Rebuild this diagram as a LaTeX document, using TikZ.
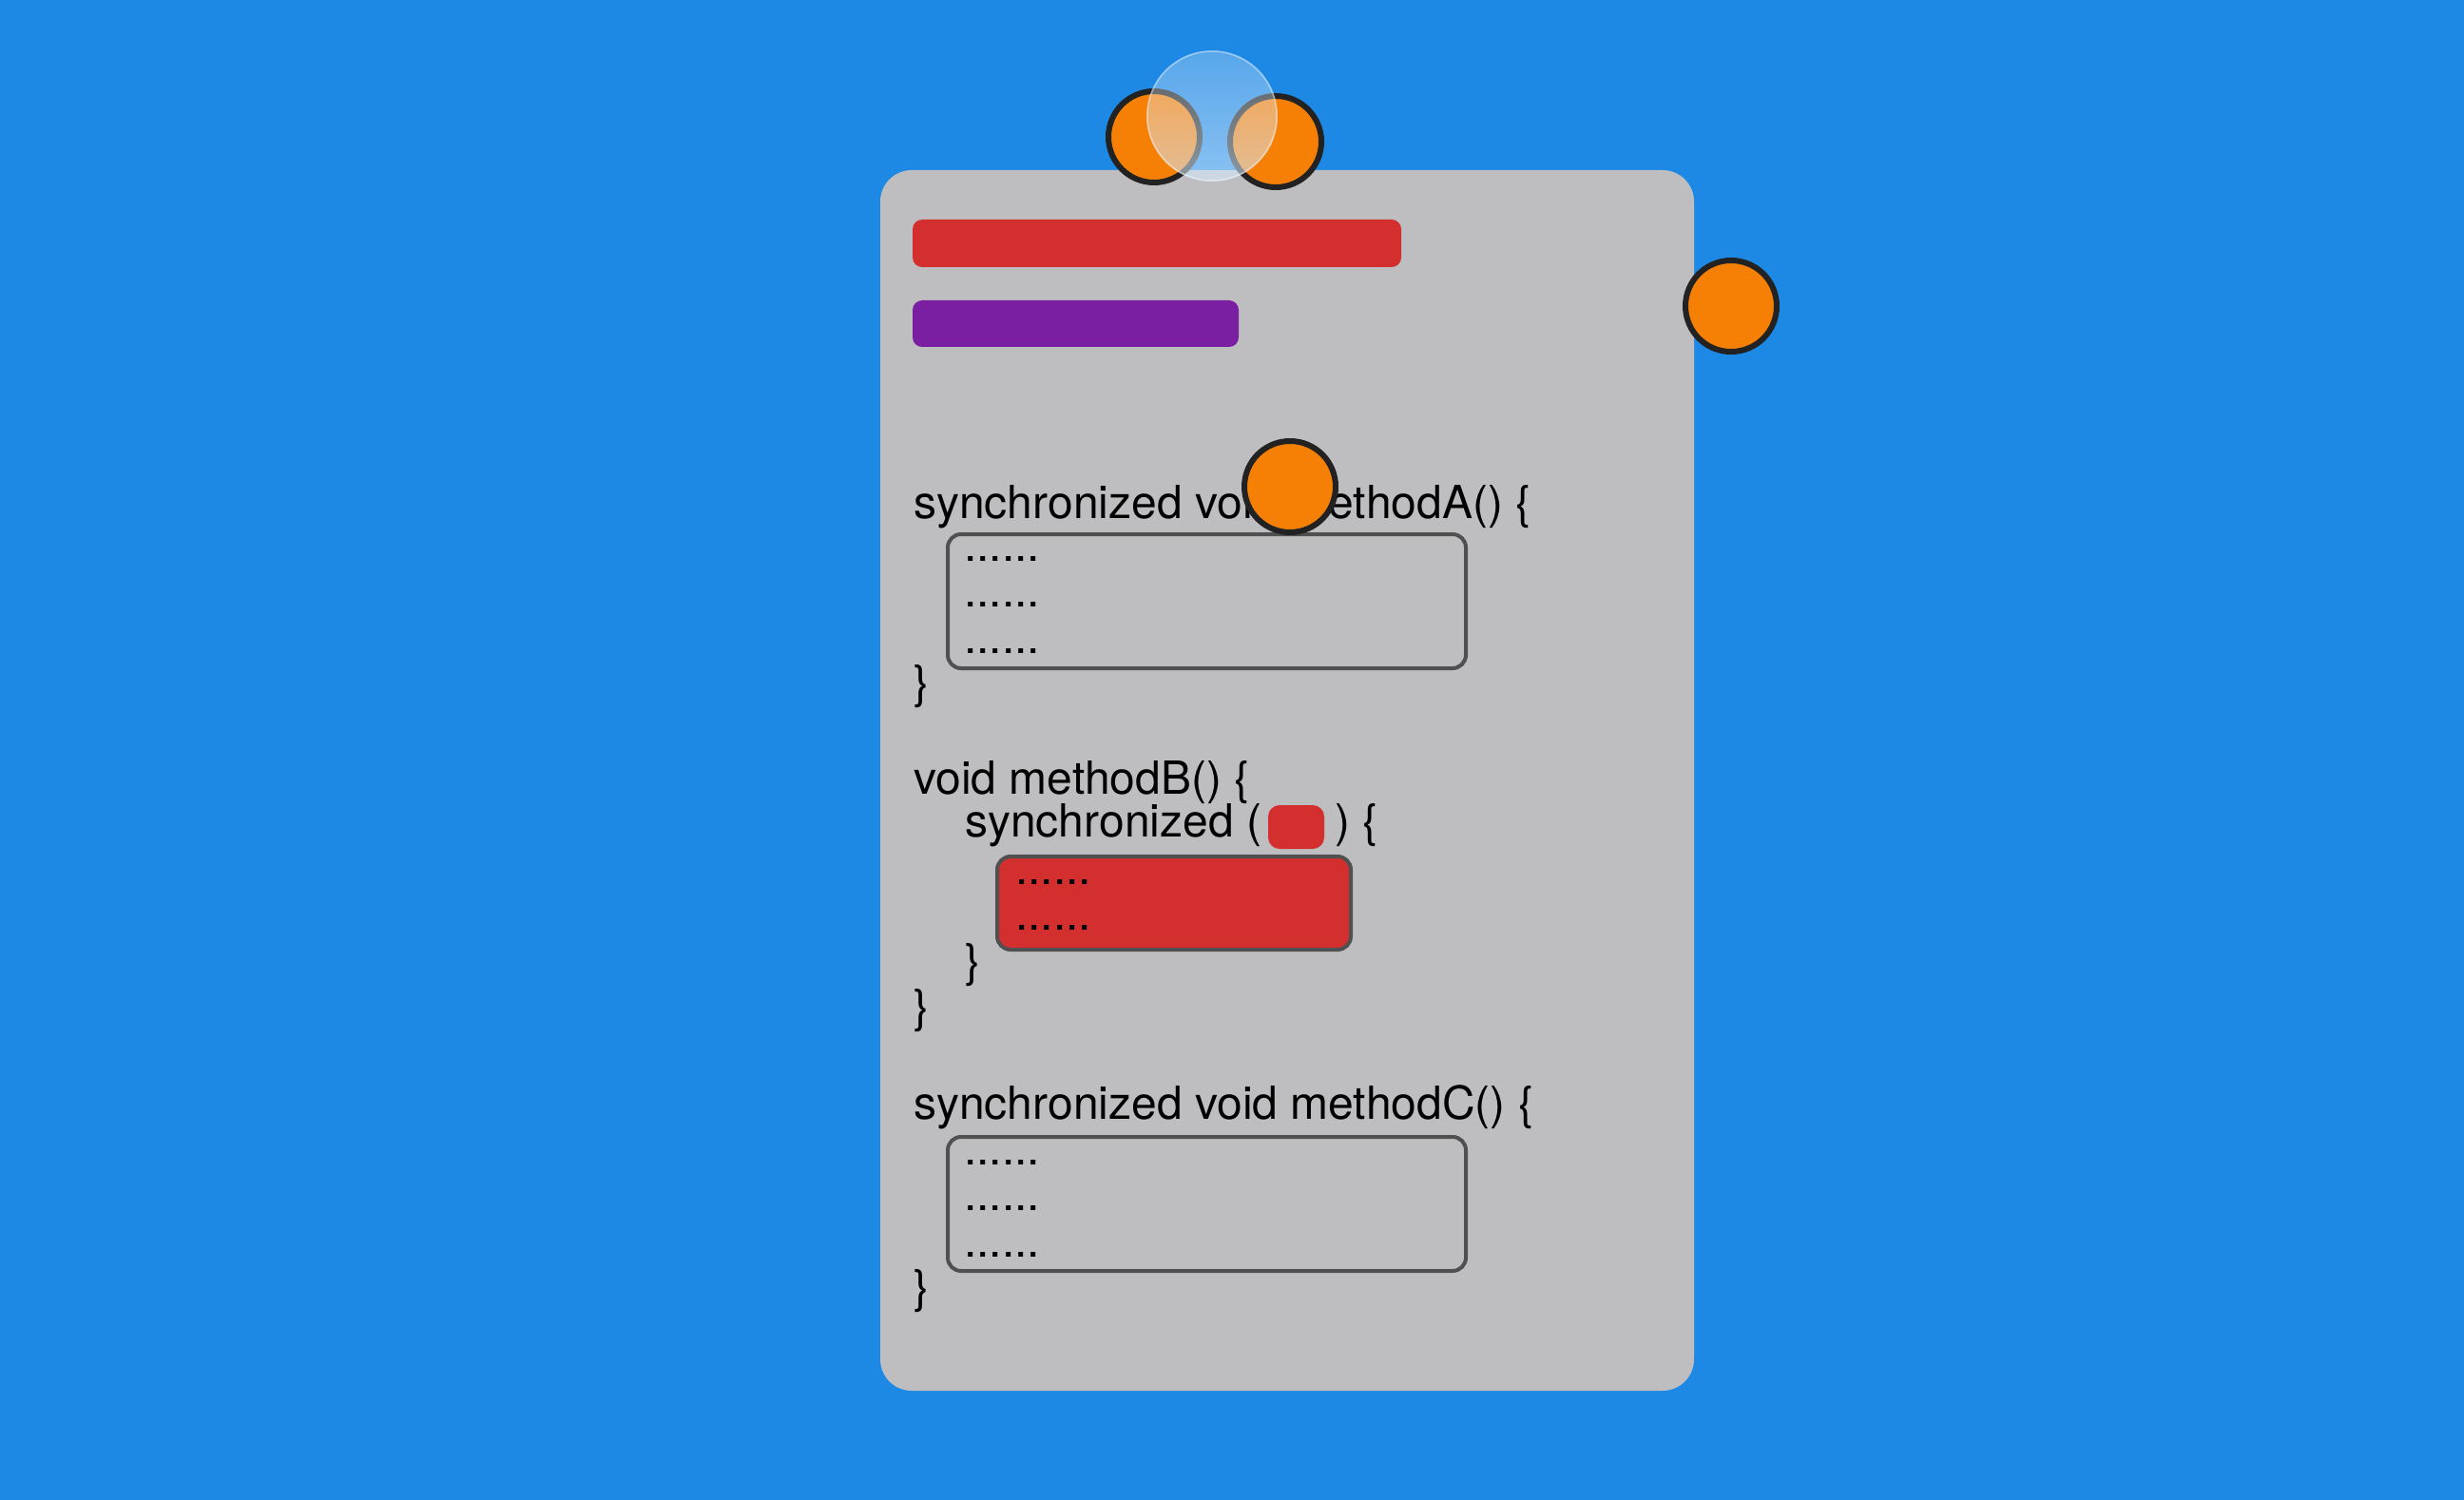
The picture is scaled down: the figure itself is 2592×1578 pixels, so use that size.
\documentclass[tikz,border=0pt]{standalone}
\usepackage{fontspec}
\setmainfont{TeX Gyre Heros}
\usetikzlibrary{fadings}
\definecolor{bgblue}{RGB}{30,137,229}
\definecolor{panelgray}{RGB}{190,190,192}
\definecolor{barred}{RGB}{211,47,47}
\definecolor{barpurple}{RGB}{123,31,162}
\definecolor{orangefill}{RGB}{246,128,6}
\definecolor{ringdark}{RGB}{34,34,34}
\definecolor{boxline}{RGB}{80,80,80}
\definecolor{glasstop}{RGB}{200,228,252}
\begin{document}
\begin{tikzpicture}[x=1pt,y=-1pt,
  panelbox/.style={rectangle, rounded corners=33pt, fill=panelgray, inner sep=0pt, minimum width=856pt, minimum height=1284pt},
  bar/.style={rectangle, rounded corners=10pt, inner sep=0pt, minimum height=50pt},
  codebox/.style={rectangle, rounded corners=14pt, draw=boxline, line width=4pt, inner sep=0pt},
  codetext/.style={anchor=base west, inner sep=0pt, text=black, font=\fontsize{48}{56}\selectfont},
  dotstext/.style={anchor=base west, inner sep=0pt, text=black, font=\fontsize{48}{56}\selectfont},
  orangec/.style={circle, fill=orangefill, draw=ringdark, line width=6pt, minimum size=96pt, inner sep=0pt},
  glassc/.style={circle, minimum size=138pt, inner sep=0pt}
]
\useasboundingbox (0,0) rectangle (2592,1578);
\fill[bgblue] (0,0) rectangle (2592,1578);

% panel
\node[panelbox] (panel) at (1354,821) {};

% bars
\node[bar, fill=barred, minimum width=514pt] (redbar) at (1217,256) {};
\node[bar, fill=barpurple, minimum width=343pt, minimum height=49pt] (purplebar) at (1131.5,340.5) {};

% method A
\node[codetext] (sigA) at (961,545) {synchronized void methodA() \{};
\node[codebox, minimum width=545pt, minimum height=141pt] (boxA) at (1269.5,632.5) {};
\node[dotstext] (dA1) at (1014,590) {......};
\node[dotstext] (dA2) at (1014,638) {......};
\node[dotstext] (dA3) at (1014,687) {......};
\node[codetext] (endA) at (961,734) {\}};

% method B
\node[codetext] (sigB) at (961,835) {void methodB() \{};
\node[codetext] (syncB) at (1015,880) {synchronized (};
\node[rectangle, rounded corners=12pt, fill=barred, minimum width=59pt, minimum height=46pt, inner sep=0pt] (lockB) at (1363.5,870) {};
\node[codetext] (syncBend) at (1404,880) {) \{};
\node[codebox, fill=barred, minimum width=372pt, minimum height=98pt] (boxB) at (1235,950) {};
\node[dotstext] (dB1) at (1068,930) {......};
\node[dotstext] (dB2) at (1068,978) {......};
\node[codetext] (endB1) at (1015,1027) {\}};
\node[codetext] (endB2) at (961,1075) {\}};

% method C
\node[codetext] (sigC) at (961,1177) {synchronized void methodC() \{};
\node[codebox, minimum width=545pt, minimum height=141pt] (boxC) at (1269.5,1266.5) {};
\node[dotstext] (dC1) at (1014,1225) {......};
\node[dotstext] (dC2) at (1014,1273) {......};
\node[dotstext] (dC3) at (1014,1322) {......};
\node[codetext] (endC) at (961,1370) {\}};

% top circles
\node[orangec] (topleft) at (1214,144) {};
\node[orangec] (topright) at (1342,149) {};
\node[glassc, fill=white, fill opacity=0.26] (glass) at (1275,122) {};
\fill[glasstop, opacity=0.45, path fading=north] (glass.center) circle (69pt);
\draw[white, opacity=0.4, line width=1.5pt] (glass.center) circle (68pt);

% other threads
\node[orangec] (rightthread) at (1821,322) {};
\node[orangec] (midthread) at (1357,512) {};
\end{tikzpicture}
\end{document}
